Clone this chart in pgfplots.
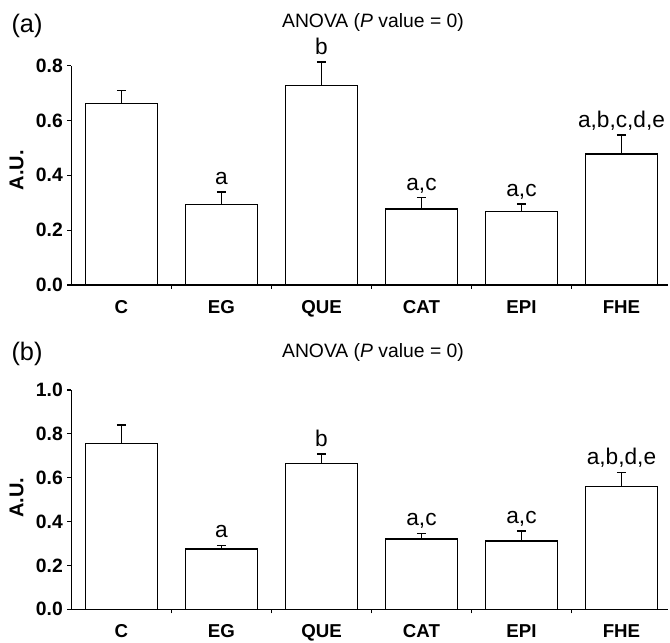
\documentclass[border=0pt]{standalone}
\usepackage{pgfplots}
\pgfplotsset{compat=1.18}
\usepackage{pgfplotstable}
\usepackage{fontspec}
\setmainfont{Liberation Sans}
\pgfplotstableread{
x y err
0 0.663 0.046
1 0.294 0.045
2 0.727 0.087
3 0.277 0.042
4 0.267 0.029
5 0.478 0.069
}\dataA
\pgfplotstableread{
x y err
0 0.757 0.083
1 0.275 0.017
2 0.666 0.042
3 0.321 0.026
4 0.311 0.046
5 0.561 0.064
}\dataB
\pgfplotsset{
  panel/.style={
    scale only axis, width=447.75pt, height=164.5pt,
    xmin=-0.5, xmax=5.47, ymin=0,
    clip=false,
    axis x line=bottom, axis y line=left, axis line style={-, line width=0.9pt},
    tick align=outside, major tick length=3pt, minor tick length=3pt,
    every tick/.style={black, line width=0.9pt},
    xtick={0,...,5}, xticklabels={C,EG,QUE,CAT,EPI,FHE},
    major x tick style={draw=none},
    minor xtick={0.5,1.5,2.5,3.5,4.5},
    xticklabel style={font=\fontsize{14pt}{16pt}\selectfont\bfseries, yshift=-5pt},
    yticklabel style={font=\fontsize{14.5pt}{16pt}\selectfont\bfseries},
    /pgf/number format/.cd, fixed, fixed zerofill, precision=1, assume math mode=true,
    /pgfplots/.cd,
    ybar, bar width=54pt,
  },
  barplot/.style={draw=black, fill=white, line width=1pt,
    error bars/.cd, y dir=plus, y explicit, error mark=-,
    error bar style={line width=1pt, black},
    error mark options={rotate=90, black, line width=1pt, mark size=3.4pt}},
}
\tikzset{lab/.style={anchor=base, yshift=5.5pt, inner sep=0pt, font=\fontsize{17pt}{19pt}\selectfont}}
\begin{document}
\begin{tikzpicture}
\useasboundingbox (0,0) rectangle (502.5pt,481.5pt);
% panel (a)
\begin{axis}[panel, at={(53.6pt,267.75pt)}, anchor=south west, ymax=0.8, ytick={0,0.2,...,0.8}]
\addplot[barplot] table[x=x, y=y, y error=err] {\dataA};
\node[lab] at (axis cs:1,0.339) {a};
\node[lab] at (axis cs:2,0.814) {b};
\node[lab] at (axis cs:3,0.319) {a,c};
\node[lab] at (axis cs:4,0.296) {a,c};
\node[lab] at (axis cs:5,0.547) {a,b,c,d,e};
\node[rotate=90, font=\fontsize{15pt}{17pt}\selectfont\bfseries] at (axis description cs:-0.092,0.524) {A.U.};
\end{axis}
% panel (b)
\begin{axis}[panel, at={(53.6pt,24.5pt)}, anchor=south west, ymax=1.0, ytick={0,0.2,...,1.0}]
\addplot[barplot] table[x=x, y=y, y error=err] {\dataB};
\node[lab] at (axis cs:1,0.292) {a};
\node[lab] at (axis cs:2,0.708) {b};
\node[lab] at (axis cs:3,0.347) {a,c};
\node[lab] at (axis cs:4,0.357) {a,c};
\node[lab] at (axis cs:5,0.625) {a,b,d,e};
\node[rotate=90, font=\fontsize{15pt}{17pt}\selectfont\bfseries] at (axis description cs:-0.092,0.51) {A.U.};
\end{axis}
\node[font=\fontsize{14.5pt}{16pt}\selectfont] at (279.75pt,464.25pt) {ANOVA (\textit{P} value = 0)};
\node[font=\fontsize{19pt}{21pt}\selectfont] at (20.25pt,462pt) {(a)};
\node[font=\fontsize{14.5pt}{16pt}\selectfont] at (279.75pt,216.75pt) {ANOVA (\textit{P} value = 0)};
\node[font=\fontsize{19pt}{21pt}\selectfont] at (20.25pt,216pt) {(b)};
\end{tikzpicture}
\end{document}
